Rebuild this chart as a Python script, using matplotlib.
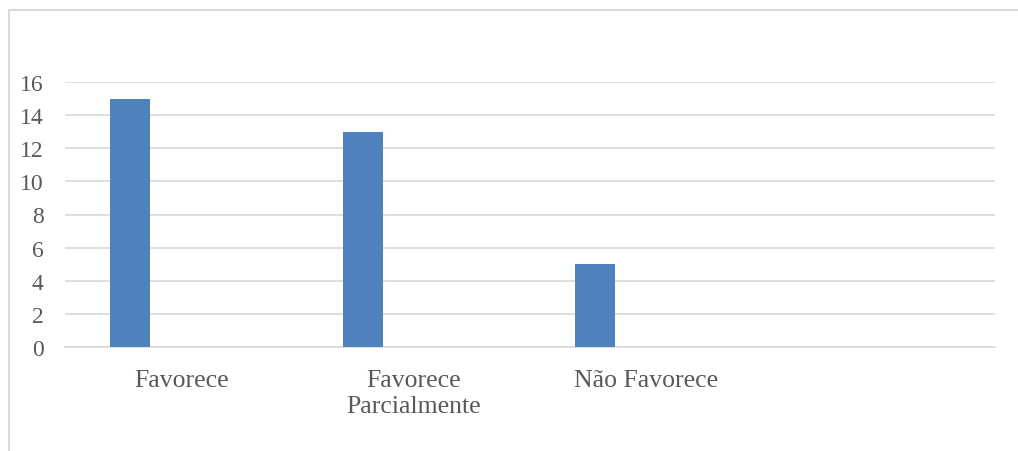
import matplotlib
matplotlib.use("Agg")
import matplotlib.pyplot as plt
from matplotlib.lines import Line2D

categories = ["Favorece", "Favorece\nParcialmente", "Não Favorece", ""]
values = [15, 13, 5]
yticks = [0, 2, 4, 6, 8, 10, 12, 14, 16]

W, H = 1018, 452
fig = plt.figure(figsize=(W / 100, H / 100), dpi=100)
fig.patch.set_facecolor("white")

left, right, top, bottom = 65, 995, 83, 348
ax = fig.add_axes([left / W, 1 - bottom / H, (right - left) / W, (bottom - top) / H])

x = list(range(len(values)))
ax.bar([i - 0.22 for i in x], values, width=0.172, color="#4F81BD", zorder=3)

ax.set_xlim(-0.5, 3.5)
ax.set_ylim(0, 16)
ax.set_yticks(yticks)
ax.set_yticklabels([str(t) for t in yticks])
ax.set_xticks(range(len(categories)))
ax.set_xticklabels(categories, linespacing=1.25)

ax.grid(axis="y", color="#D9D9D9", linewidth=1.2, zorder=0)
ax.set_axisbelow(True)
for s in ["left", "right", "top"]:
    ax.spines[s].set_visible(False)
ax.spines["bottom"].set_color("#D9D9D9")
ax.spines["bottom"].set_linewidth(1.2)

font = "Liberation Serif"
ax.tick_params(axis="y", length=0, pad=15.5, labelsize=17, labelcolor="#595959")
ax.tick_params(axis="x", length=0, pad=15.5, labelsize=18.5, labelcolor="#595959")
for lab in ax.get_xticklabels() + ax.get_yticklabels():
    lab.set_fontfamily(font)

# chart border
fig.add_artist(Line2D([8.5 / W, 8.5 / W, 1.0], [0.0, 1 - 10.5 / H, 1 - 10.5 / H],
                      transform=fig.transFigure, color="#D9D9D9", linewidth=1.5))

fig.savefig("out.png", dpi=100, facecolor="white")
